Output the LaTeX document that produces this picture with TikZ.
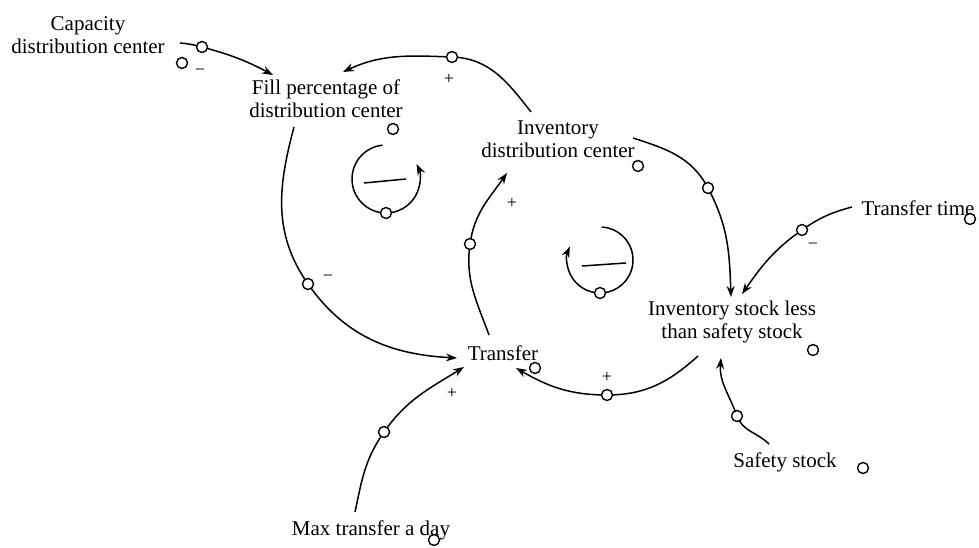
\documentclass[tikz,border=0pt]{standalone}
\usepackage{fontspec}
\setmainfont{Liberation Serif}
\usetikzlibrary{arrows.meta}
\pgfdeclarelayer{bg}
\pgfsetlayers{bg,main}
\begin{document}
\begin{tikzpicture}[x=1pt,y=1pt,
  var/.style={font=\fontsize{21}{23}\selectfont, align=center, inner sep=0pt},
  valve/.style={circle, draw, fill=white, line width=1.4pt, minimum size=11pt, inner sep=0pt},
  polarity/.style={font=\fontsize{18}{18}\selectfont, inner sep=0pt},
  link/.style={line width=1.5pt, -{Stealth[length=11pt,width=8pt]}},
  looparc/.style={line width=1.5pt, -{Stealth[length=11pt,width=8pt]}},
  loopsign/.style={line width=1.5pt}]
\useasboundingbox (0,0) rectangle (979,548);

% variables
\node[var] (cap)  at (88,513)  {Capacity\\distribution center};
\node[var] (fill) at (326,449) {Fill percentage of\\distribution center};
\node[var] (inv)  at (558,409) {Inventory\\distribution center};
\node[var] (tt)   at (918,340) {Transfer time};
\node[var] (less) at (732,226) {Inventory stock less\\than safety stock};
\node[var] (tr)   at (503,195) {Transfer};
\node[var] (max)  at (371,18)  {Max transfer a day};
\node[var] (ss)   at (785,86)  {Safety stock};

% valves sitting on the links
\node[valve] (c1) at (202,501) {};
\node[valve] (c2) at (452,491) {};
\node[valve] (c3) at (708,360) {};
\node[valve] (c4) at (802,318) {};
\node[valve] (c5) at (607,153) {};
\node[valve] (c6) at (470,304) {};
\node[valve] (c7) at (308,264) {};
\node[valve] (c8) at (384,116) {};
\node[valve] (c9) at (737,132) {};

% loose valve marks
\node[valve] (f1) at (182,485) {};
\node[valve] (f2) at (393,419) {};
\node[valve] (f3) at (638,382) {};
\node[valve] (f4) at (970,329) {};
\node[valve] (f5) at (813,198) {};
\node[valve] (f6) at (535,180) {};
\node[valve] (f7) at (434,8)   {};
\node[valve] (f8) at (863,80)  {};

% polarities
\node[polarity] (m1) at (200,476) {−};
\node[polarity] (p1) at (449,469) {+};
\node[polarity] (m2) at (813,302) {−};
\node[polarity] (p2) at (607,171) {+};
\node[polarity] (p3) at (512,345) {+};
\node[polarity] (m3) at (328,270) {−};
\node[polarity] (p4) at (452,155) {+};

% loop markers
\coordinate (loopL) at (386,369);
\coordinate (loopR) at (600,288);
\node[valve] (l1) at ([shift={(270:34)}]loopL) {};
\node[valve] (l2) at ([shift={(270:33)}]loopR) {};

\begin{pgfonlayer}{bg}
  \draw[looparc] ([shift={(96:34)}]loopL) arc[start angle=96, end angle=386, radius=34];
  \draw[loopsign] ([shift={(-22,-4)}]loopL) -- ([shift={(20,0)}]loopL);
  \draw[looparc] ([shift={(87:33)}]loopR) arc[start angle=87, end angle=-204, radius=33];
  \draw[loopsign] ([shift={(-18,-6)}]loopR) -- ([shift={(26,-3)}]loopR);

  % causal links
  \draw[link] ([shift={(92,-8)}]cap.center) to[out=-5,in=165] (c1.center)
              to[out=-15,in=152] ([shift={(-53,24)}]fill.center);
  \draw[link] ([shift={(-27,27)}]inv.center) to[out=128,in=-2] (c2.center)
              to[out=178,in=25] ([shift={(17,27)}]fill.center);
  \draw[link] ([shift={(75,1)}]inv.center) to[out=-18,in=118] (c3.center)
              to[out=-62,in=92] ([shift={(-1,25)}]less.center);
  \draw[link] ([shift={(-66,1)}]tt.center) to[out=195,in=35] (c4.center)
              to[out=215,in=55] ([shift={(10,28)}]less.center);
  \draw[link] ([shift={(-34,-34)}]less.center) to[out=222,in=0] (c5.center)
              to[out=180,in=-30] ([shift={(13,-15)}]tr.center);
  \draw[link] ([shift={(-14,18)}]tr.center) to[out=110,in=-98] (c6.center)
              to[out=82,in=-125] ([shift={(-51,-34)}]inv.center);
  \draw[link] ([shift={(-32,-28)}]fill.center) to[out=255,in=125] (c7.center)
              to[out=-55,in=177] ([shift={(-46,-5)}]tr.center);
  \draw[link] ([shift={(-16,18)}]max.center) to[out=78,in=235] (c8.center)
              to[out=55,in=212] ([shift={(-39,-14)}]tr.center);
  \draw[link] ([shift={(-16,18)}]ss.center) to[out=135,in=-70] (c9.center)
              to[out=110,in=-95] ([shift={(-11,-36)}]less.center);
\end{pgfonlayer}
\end{tikzpicture}
\end{document}
